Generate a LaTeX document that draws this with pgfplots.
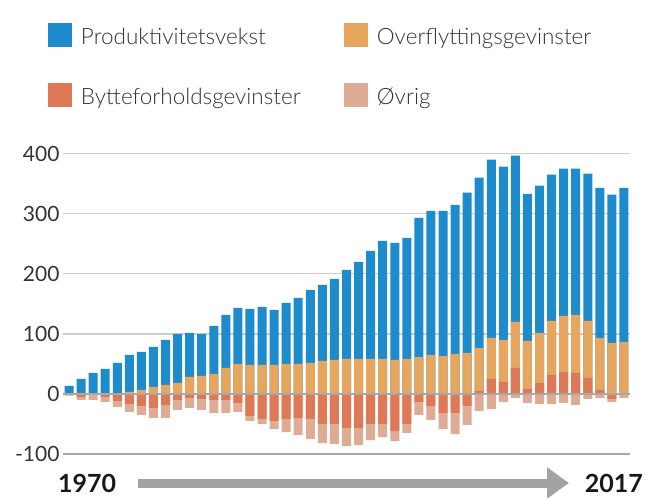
\documentclass[border=0pt]{standalone}
\usepackage{pgfplots}
\pgfplotsset{compat=1.18}
\usepackage{pgfplotstable}
\usepackage{fontspec}
\setmainfont{Lato}
\newfontfamily\lightfont{Lato Light}
\usetikzlibrary{arrows.meta}
\definecolor{cP}{HTML}{1E8BCD}
\definecolor{cO}{HTML}{E6A65D}
\definecolor{cB}{HTML}{DE7856}
\definecolor{cV}{HTML}{DEAC94}
\definecolor{gridc}{HTML}{CDCDCD}
\definecolor{zeroc}{HTML}{A8A8A8}
\definecolor{arrc}{HTML}{A3A3A3}
\definecolor{txt}{HTML}{333333}

% x = year index (0 = 1970 ... 46 = 2017); P = Produktivitetsvekst,
% O = Overflyttingsgevinster, B = Bytteforholdsgevinster, V = Oevrig
\pgfplotstableread{
x  P      O      B      V
0  13.3   0     -2     -1
1  25     0     -5     -5
2  35     0     -1.7   -8.3
3  41.7   0     -5     -8.3
4  51.7   0     -11.7  -10
5  61.7   3.3   -16.7  -13.3
6  63.3   6.7   -20    -15
7  66.6   11.7  -23.3  -16.7
8  75     15    -18.3  -21.7
9  81.7   18.3  -10    -16.7
10 73.4   28.3  -6.7   -16.7
11 70     30    -8.3   -18.3
12 80     33.3  -10    -21.7
13 88.4   43.3  -10    -21.7
14 93.3   50    -15    -15
15 93.4   48.3  -36.7  -8.3
16 96.7   48.3  -41.7  -8.3
17 91.7   48.3  -45    -13.3
18 101.7  50    -41.7  -21.7
19 110    50    -40    -28.3
20 121.6  51.7  -41.7  -33.3
21 126.7  55    -50    -31.7
22 135    56.7  -50    -33.3
23 148.4  58.3  -56.7  -30
24 161.7  58.3  -56.7  -28.3
25 180    58.3  -50    -26.7
26 196.7  58.3  -50    -21.7
27 195    56.7  -61.7  -16.7
28 201.7  58.3  -50    -15
29 231.6  61.7  -13.3  -21.7
30 240    65    -20    -23.3
31 241.7  63.3  -31.7  -26.7
32 248.3  66.7  -31.7  -35
33 266.7  68.3  -20    -31.7
34 283.3  71.7  5      -28.3
35 296.7  68.3  25     -25
36 288.3  70    20     -13.3
37 276.7  76.7  43.3   -6.7
38 245    80    8.3    -15
39 245    83.4  18.3   -16.7
40 243.3  90    31.7   -16.7
41 245    93.3  36.7   -15
42 243.3  96.7  35     -18.3
43 245    95    26.7   -8.3
44 250    86.6  6.7    -6.7
45 246.7  85    -8.3   -5
46 256.6  86.7  -1     -5.7
}\datatable

\begin{document}
\begin{tikzpicture}
\path[use as bounding box] (0pt,0pt) rectangle (646pt,-498pt);
\begin{axis}[
  at={(63pt,-454pt)}, anchor=south west,
  scale only axis, width=567pt, height=300.3pt,
  xmin=-0.5, xmax=46.5, ymin=-100, ymax=400,
  axis line style={draw=none},
  xtick=\empty,
  ytick={-100,0,100,200,300,400},
  major tick length=0pt,
  ymajorgrids,
  grid style={color=gridc, line width=1.3pt},
  yticklabel style={font=\fontsize{21}{21}\selectfont, text=txt},
  /pgf/number format/assume math mode=true,
  ybar, bar width=9pt,
  sq/.style={legend image code/.code={\fill[##1] (0pt,-12pt) rectangle (24pt,12pt);}},
  legend columns=2,
  legend style={at={(-0.02646,1.4369)}, anchor=north west, draw=none, fill=none,
    inner sep=0pt, outer sep=0pt, row sep=34pt,
    font=\lightfont\fontsize{22.5}{22.5}\selectfont, text=txt,
    cells={anchor=west},
    /tikz/every odd column/.append style={column sep=7pt},
    /tikz/every even column/.append style={column sep=6pt, text height=20pt, text depth=2pt, inner sep=0pt},
    /tikz/column 2/.append style={text width=255pt}},
]
\addplot[fill=cP, draw=none, bar shift=0pt, sq] table[x=x, y expr={max(\thisrow{B},0)+\thisrow{O}+\thisrow{P}}] {\datatable};
\addlegendentry{Produktivitetsvekst}
\addplot[fill=cO, draw=none, bar shift=0pt, sq] table[x=x, y expr={max(\thisrow{B},0)+\thisrow{O}}] {\datatable};
\addlegendentry{Overflyttingsgevinster}
\addplot[fill=cB, draw=none, bar shift=0pt, sq] table[x=x, y expr={max(\thisrow{B},0)}] {\datatable};
\addlegendentry{Bytteforholdsgevinster}
\addplot[fill=cV, draw=none, bar shift=0pt, sq] table[x=x, y expr={min(\thisrow{B},0)+\thisrow{V}}] {\datatable};
\addlegendentry{Øvrig}
\addplot[fill=cB, draw=none, bar shift=0pt, forget plot] table[x=x, y expr={min(\thisrow{B},0)}] {\datatable};
\draw[color=zeroc, line width=1.8pt] (axis cs:-0.5,0) -- (axis cs:46.5,0);
\draw[color=zeroc, line width=1.2pt] (axis cs:-0.5,-100) -- (axis cs:46.5,-100);
\end{axis}
\draw[color=arrc, line width=9pt, -{Triangle[length=22pt, width=30pt]}] (138pt,-483pt) -- (569pt,-483pt);
\node[anchor=base west, inner sep=0pt, font=\fontsize{25}{25}\selectfont\bfseries, text=black!90] at (58pt,-492pt) {1970};
\node[anchor=base east, inner sep=0pt, font=\fontsize{25}{25}\selectfont\bfseries, text=black!90] at (643pt,-492pt) {2017};
\end{tikzpicture}
\end{document}
